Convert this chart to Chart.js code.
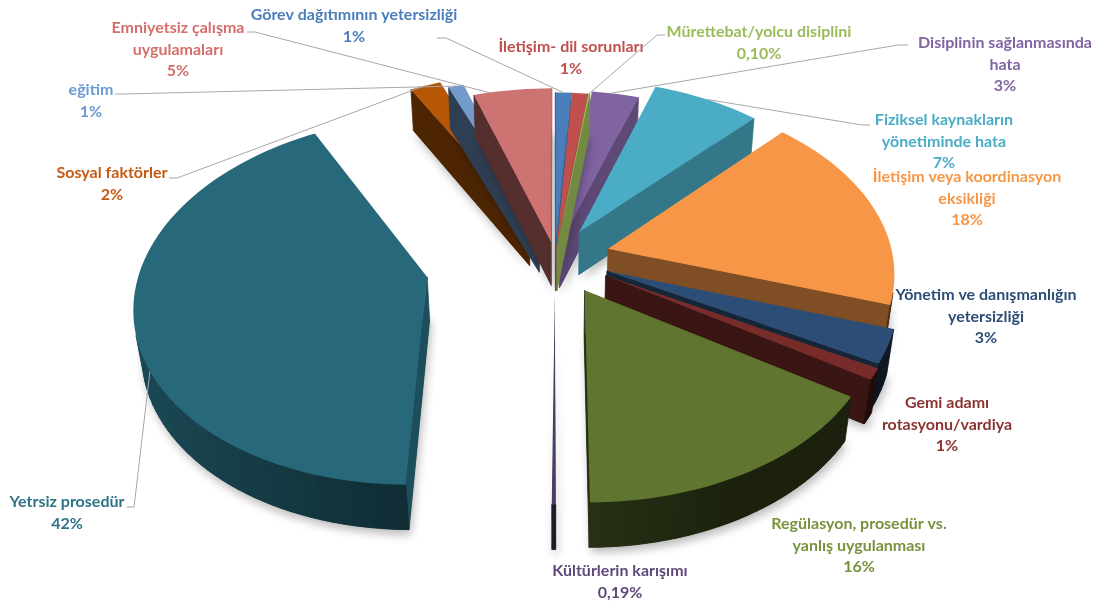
<!DOCTYPE html>
<html>
<head>
<meta charset="utf-8">
<script src="https://cdn.jsdelivr.net/npm/chart.js@4.4.0/dist/chart.umd.min.js"></script>
<style>
  html, body { margin: 0; padding: 0; background: #fff; }
  #wrap { width: 1103px; height: 602px; position: relative; }
</style>
</head>
<body>
<div id="wrap"><canvas id="chart"></canvas></div>
<script>
const categories = [
  'Görev dağıtımının yetersizliği',
  'İletişim- dil sorunları',
  'Mürettebat/yolcu disiplini',
  'Disiplinin sağlanmasında\nhata',
  'Fiziksel kaynakların\nyönetiminde hata',
  'İletişim veya koordinasyon\neksikliği',
  'Yönetim ve danışmanlığın\nyetersizliği',
  'Gemi adamı\nrotasyonu/vardiya',
  'Regülasyon, prosedür vs.\nyanlış uygulanması',
  'Kültürlerin karışımı',
  'Yetrsiz prosedür',
  'Sosyal faktörler',
  'eğitim',
  'Emniyetsiz çalışma\nuygulamaları'
];
const values = [1, 1, 0.10, 3, 7, 18, 3, 1, 16, 0.19, 42, 2, 1, 5];

const sliceColors = ['#4a7ebb', '#c0504d', '#9bbb59', '#8064a2', '#4bacc6', '#f79646', '#2c4d75',
  '#772c2a', '#5f7530', '#4d3b62', '#27697b', '#b65708', '#729aca', '#cd7371'];
const labelColors = ['#4a7ebb', '#c0504d', '#9bbb59', '#8064a2', '#4bacc6', '#f79646', '#2c4d75',
  '#8a3432', '#77933c', '#5f497a', '#2e7487', '#c55a11', '#6a9ad4', '#d46f6c'];

// how far each slice is pulled out of the pie
const explode = [15, 15, 15, 20, 48, 55, 56, 58, 60, 55, 130, 62, 48, 24];

// data label layout: centre of first line, elbow of leader line, where on the slice the leader ends
const labelPos = [[354, 15], [571, 47], [759, 32], [1005, 43], [944, 120], [967, 177], [986, 295],
  [947, 403], [859, 524], [620, 571], [67, 502], [112, 173], [91, 90], [178, 28]];
const leaders = [[437, 38, 446, 38], null, [665, 35, 657, 35], [908, 45, 898, 45], [870, 125, 862, 125],
  null, null, null, null, null, [127, 507, 134, 507], [169, 178, 177, 178], [115, 94, 123, 94], [247, 32, 255, 32]];
const leaderFrac = [0.5, 0.5, 0.5, 0.4, 0.5, 0.5, 0.5, 0.5, 0.5, 0.5, 0.4, 0.5, 0.5, 0.2];

const view = { sin: 0.62, cos: Math.sqrt(1 - 0.62 * 0.62), dist: 1800, depth: 56 };

function project(cx, cy, X, Y, Z) {
  const z = view.dist - (Y * view.cos + Z * view.sin);
  const f = view.dist / z;
  return [cx + X * f, cy + (Y * view.sin - Z * view.cos) * f];
}

function shade(hex, f) {
  const n = parseInt(hex.slice(1), 16);
  const r = Math.round(((n >> 16) & 255) * f);
  const g = Math.round(((n >> 8) & 255) * f);
  const b = Math.round((n & 255) * f);
  return 'rgb(' + r + ',' + g + ',' + b + ')';
}

function pctText(v) {
  return (v < 1 ? v.toFixed(2).replace('.', ',') : String(v)) + '%';
}

function sliceGeom(el) {
  const mid = (el.startAngle + el.endAngle) / 2;
  const off = el.options.offset || 0;
  return { cx: el.x, cy: el.y, a0: el.startAngle, a1: el.endAngle, R: el.outerRadius,
    ox: Math.cos(mid) * off, oy: Math.sin(mid) * off, mid: mid };
}

function polyPath(ctx, g, pts, Z) {
  ctx.beginPath();
  pts.forEach((p, k) => {
    const s = project(g.cx, g.cy, p[0], p[1], Z);
    if (k === 0) ctx.moveTo(s[0], s[1]); else ctx.lineTo(s[0], s[1]);
  });
  ctx.closePath();
}

function quad(ctx, g, p, q, H, color) {
  const pts = [project(g.cx, g.cy, p[0], p[1], 0), project(g.cx, g.cy, q[0], q[1], 0),
    project(g.cx, g.cy, q[0], q[1], -H), project(g.cx, g.cy, p[0], p[1], -H)];
  ctx.beginPath();
  ctx.moveTo(pts[0][0], pts[0][1]);
  for (let k = 1; k < 4; k++) ctx.lineTo(pts[k][0], pts[k][1]);
  ctx.closePath();
  ctx.fillStyle = color;
  ctx.strokeStyle = color;
  ctx.lineWidth = 0.8;
  ctx.fill();
  ctx.stroke();
}

function facing(n, P) {
  // camera sits at (0, dist*cos, dist*sin) above the pie centre
  return n[0] * (0 - P[0]) + n[1] * (view.dist * view.cos - P[1]) > 0;
}

function drawSlice(ctx, el, i) {
  const g = sliceGeom(el);
  const H = view.depth;
  const base = sliceColors[i];
  const steps = Math.max(1, Math.ceil((g.a1 - g.a0) / (Math.PI / 90)));
  const rim = [];
  for (let k = 0; k <= steps; k++) {
    const a = g.a0 + (g.a1 - g.a0) * k / steps;
    rim.push([g.ox + g.R * Math.cos(a), g.oy + g.R * Math.sin(a)]);
  }
  const c = [g.ox, g.oy];
  const outline = [c].concat(rim);

  // soft shadow under the slice
  ctx.save();
  ctx.shadowColor = 'rgba(0,0,0,0.28)';
  ctx.shadowBlur = 10;
  ctx.shadowOffsetX = 2;
  ctx.shadowOffsetY = 5;
  polyPath(ctx, g, outline, -H);
  ctx.fillStyle = shade(base, 0.35);
  ctx.fill();
  ctx.restore();

  // radial walls
  const walls = [
    { p: c, q: rim[0], n: [Math.sin(g.a0), -Math.cos(g.a0)] },
    { p: c, q: rim[steps], n: [-Math.sin(g.a1), Math.cos(g.a1)] }
  ];
  walls.forEach(w => {
    const P = [(w.p[0] + w.q[0]) / 2, (w.p[1] + w.q[1]) / 2];
    if (facing(w.n, P)) quad(ctx, g, w.p, w.q, H, shade(base, 0.57 + 0.17 * w.n[0]));
  });

  // outer wall
  for (let k = 0; k < steps; k++) {
    const a = g.a0 + (g.a1 - g.a0) * (k + 0.5) / steps;
    const n = [Math.cos(a), Math.sin(a)];
    const P = [(rim[k][0] + rim[k + 1][0]) / 2, (rim[k][1] + rim[k + 1][1]) / 2];
    if (facing(n, P)) {
      const f = Math.min(0.78, Math.max(0.28, 0.42 - 0.3 * n[0]));
      quad(ctx, g, rim[k], rim[k + 1], H, shade(base, f));
    }
  }

  // top face
  polyPath(ctx, g, outline, 0);
  ctx.fillStyle = base;
  ctx.fill();
}

const pie3d = {
  id: 'pie3d',
  beforeDatasetsDraw(chart) {
    const ctx = chart.ctx;
    const arcs = chart.getDatasetMeta(0).data;
    const order = arcs.map((el, i) => {
      const g = sliceGeom(el);
      const half = (g.a1 - g.a0) / 2 || 1e-6;
      const d = 2 * g.R * Math.sin(half) / (3 * half);
      return { i: i, depth: g.oy + d * Math.sin(g.mid) };
    }).sort((a, b) => a.depth - b.depth);
    ctx.save();
    order.forEach(o => drawSlice(ctx, arcs[o.i], o.i));
    ctx.restore();
    return false;
  },
  afterDraw(chart) {
    const ctx = chart.ctx;
    const arcs = chart.getDatasetMeta(0).data;
    ctx.save();
    ctx.font = 'bold 16px Lato';
    ctx.textAlign = 'center';
    ctx.textBaseline = 'middle';
    arcs.forEach((el, i) => {
      const lines = categories[i].split('\n').concat(pctText(values[i]));
      const [lx, ly] = labelPos[i];
      ctx.fillStyle = labelColors[i];
      lines.forEach((t, k) => ctx.fillText(t, lx, ly + k * 21.5));
      const ld = leaders[i];
      if (ld) {
        const g = sliceGeom(el);
        const a = g.a0 + (g.a1 - g.a0) * leaderFrac[i];
        const end = project(g.cx, g.cy, g.ox + g.R * Math.cos(a), g.oy + g.R * Math.sin(a), 0);
        ctx.beginPath();
        ctx.moveTo(ld[0], ld[1]);
        ctx.lineTo(ld[2], ld[3]);
        ctx.lineTo(end[0], end[1]);
        ctx.strokeStyle = '#a6a6a6';
        ctx.lineWidth = 1;
        ctx.stroke();
      }
    });
    ctx.restore();
  }
};

new Chart(document.getElementById('chart'), {
  type: 'pie',
  data: {
    labels: categories,
    datasets: [{
      data: values,
      backgroundColor: sliceColors,
      borderWidth: 0,
      offset: explode
    }]
  },
  options: {
    responsive: true,
    maintainAspectRatio: false,
    animation: false,
    events: [],
    radius: 285,
    layout: { padding: { left: 7, right: 0, top: 0, bottom: 88 } },
    plugins: {
      legend: { display: false },
      tooltip: { enabled: false }
    }
  },
  plugins: [pie3d]
});
</script>
</body>
</html>
